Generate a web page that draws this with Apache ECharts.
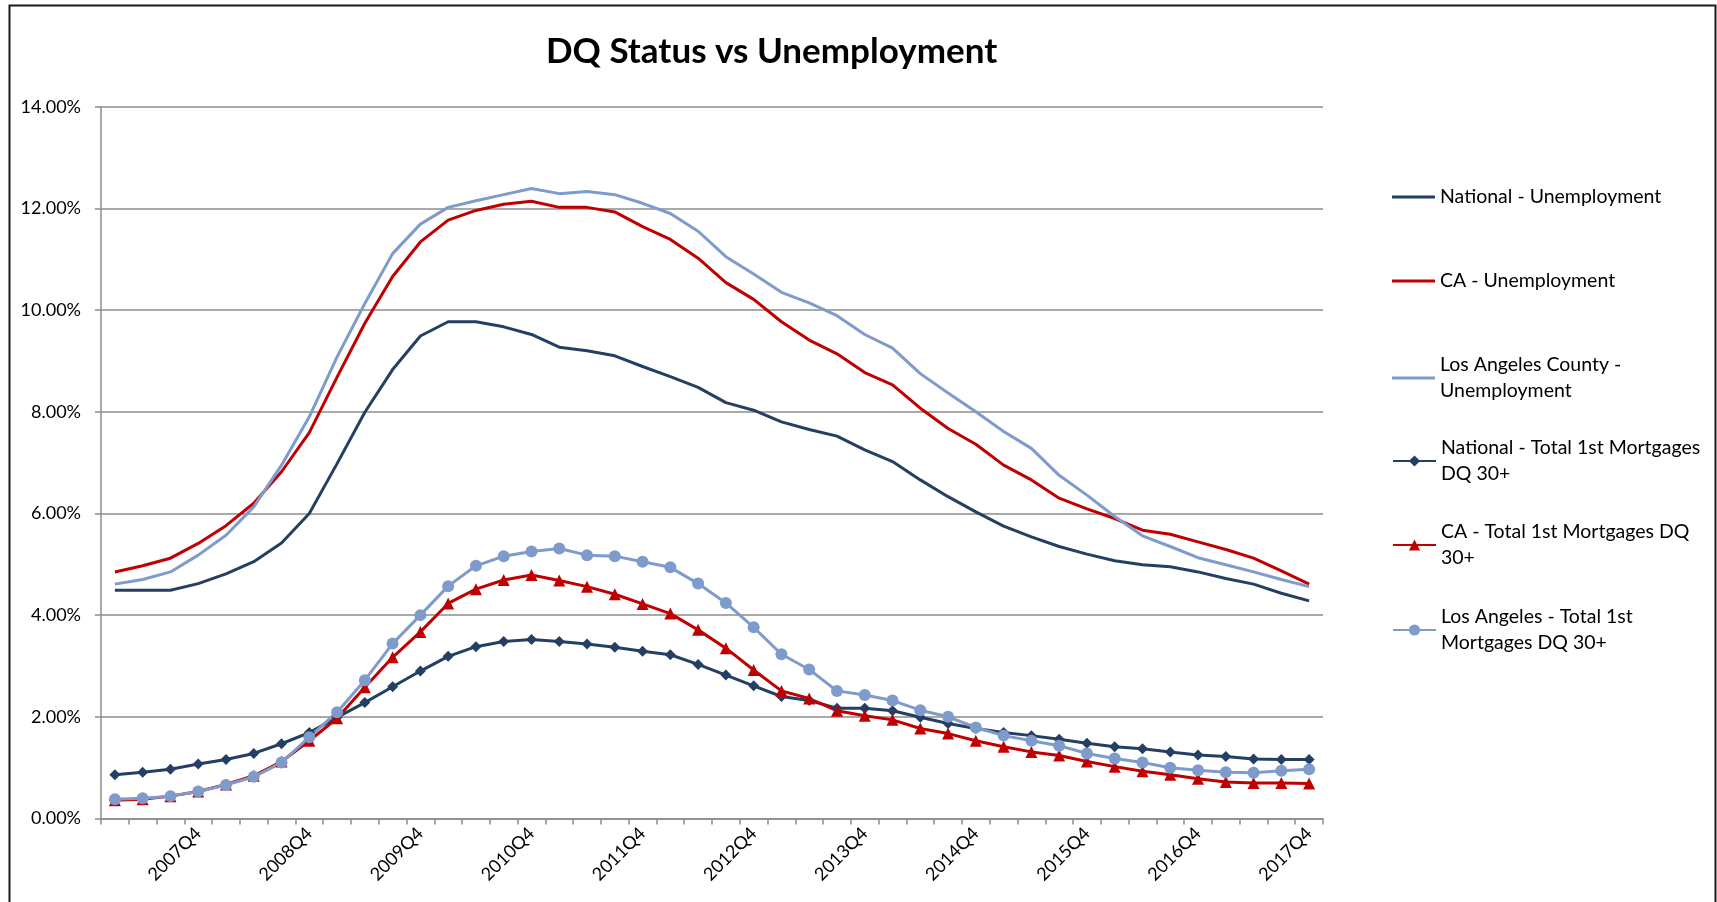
<!DOCTYPE html>
<html>
<head>
<meta charset="utf-8">
<script src="https://cdn.jsdelivr.net/npm/echarts@6/dist/echarts.min.js"></script>
<style>
html,body{margin:0;padding:0;background:#fff;}
#chart{width:1717px;height:902px;}
</style>
</head>
<body>
<div id="chart"></div>
<script>
const categories = [
  '2007Q1','2007Q2','2007Q3','2007Q4','2008Q1','2008Q2','2008Q3','2008Q4',
  '2009Q1','2009Q2','2009Q3','2009Q4','2010Q1','2010Q2','2010Q3','2010Q4',
  '2011Q1','2011Q2','2011Q3','2011Q4','2012Q1','2012Q2','2012Q3','2012Q4',
  '2013Q1','2013Q2','2013Q3','2013Q4','2014Q1','2014Q2','2014Q3','2014Q4',
  '2015Q1','2015Q2','2015Q3','2015Q4','2016Q1','2016Q2','2016Q3','2016Q4',
  '2017Q1','2017Q2','2017Q3','2017Q4'
];
const yTicks = [0, 2, 4, 6, 8, 10, 12, 14];

const nationalUnemployment = [4.49,4.49,4.49,4.62,4.81,5.05,5.42,6.00,6.98,7.99,8.83,9.49,9.77,9.77,9.67,9.52,9.27,9.20,9.10,8.89,8.69,8.48,8.18,8.03,7.80,7.65,7.52,7.25,7.02,6.66,6.33,6.03,5.75,5.54,5.35,5.20,5.07,4.99,4.95,4.85,4.72,4.61,4.43,4.28];
const caUnemployment = [4.85,4.97,5.12,5.41,5.76,6.20,6.82,7.59,8.68,9.74,10.66,11.34,11.77,11.96,12.08,12.14,12.02,12.02,11.93,11.64,11.39,11.02,10.54,10.21,9.77,9.41,9.14,8.77,8.53,8.07,7.67,7.36,6.95,6.66,6.30,6.09,5.90,5.67,5.59,5.44,5.29,5.12,4.87,4.61];
const laUnemployment = [4.61,4.70,4.85,5.18,5.57,6.13,6.95,7.90,9.08,10.13,11.11,11.69,12.02,12.15,12.27,12.39,12.29,12.33,12.27,12.10,11.90,11.55,11.05,10.71,10.35,10.14,9.89,9.52,9.25,8.75,8.37,8.00,7.61,7.28,6.75,6.36,5.94,5.56,5.35,5.13,4.99,4.85,4.70,4.56];
const nationalDQ = [0.86,0.91,0.97,1.07,1.16,1.28,1.47,1.69,1.99,2.28,2.59,2.90,3.19,3.38,3.48,3.52,3.48,3.43,3.37,3.29,3.22,3.03,2.82,2.61,2.40,2.32,2.17,2.17,2.12,1.99,1.87,1.77,1.69,1.63,1.56,1.48,1.41,1.37,1.31,1.25,1.22,1.17,1.16,1.16];
const caDQ = [0.36,0.38,0.44,0.53,0.67,0.84,1.12,1.53,1.97,2.58,3.17,3.67,4.23,4.51,4.69,4.79,4.68,4.56,4.41,4.22,4.03,3.71,3.35,2.92,2.51,2.36,2.12,2.02,1.94,1.77,1.67,1.53,1.41,1.31,1.24,1.12,1.02,0.93,0.86,0.78,0.72,0.70,0.70,0.69];
const laDQ = [0.38,0.40,0.44,0.53,0.66,0.82,1.10,1.60,2.09,2.72,3.44,4.00,4.57,4.97,5.16,5.25,5.31,5.18,5.16,5.05,4.94,4.62,4.24,3.76,3.23,2.93,2.51,2.43,2.32,2.13,2.00,1.79,1.63,1.53,1.43,1.28,1.18,1.10,1.00,0.95,0.91,0.90,0.94,0.97];

const seriesNames = [
  'National - Unemployment',
  'CA - Unemployment',
  'Los Angeles County - Unemployment',
  'National - Total 1st Mortgages DQ 30+',
  'CA - Total 1st Mortgages DQ 30+',
  'Los Angeles - Total 1st Mortgages DQ 30+'
];
const legendLabels = [
  'National - Unemployment',
  'CA - Unemployment',
  'Los Angeles County -\nUnemployment',
  'National - Total 1st Mortgages\nDQ 30+',
  'CA - Total 1st Mortgages DQ\n30+',
  'Los Angeles - Total 1st\nMortgages DQ 30+'
];
const hasMarker = [false, false, false, true, true, true];
const NAVY = '#243F63', RED = '#C00000', LBLUE = '#7E9BCB';
const colors = [NAVY, RED, LBLUE, NAVY, RED, LBLUE];
const FONT = 'Lato';

const chart = echarts.init(document.getElementById('chart'), null, {renderer: 'canvas'});

const LH = 26;
const legendRowsY = [197, 281, 365, 448, 532, 617];
const legends = seriesNames.map((n, i) => {
  const multi = legendLabels[i].indexOf('\n') >= 0;
  const ih = hasMarker[i] ? 14 : 3;
  const h = multi ? 2 * LH : Math.max(ih, LH);
  const base = {
    left: 1392,
    top: legendRowsY[i] - h / 2,
    padding: 0,
    orient: 'vertical',
    itemWidth: 43,
    itemHeight: ih,
    selectedMode: false,
    formatter: () => legendLabels[i],
    textStyle: {fontFamily: FONT, fontSize: 19.5, color: '#000', lineHeight: LH, padding: multi ? [LH, 0, 0, 0] : 0},
    data: [n]
  };
  if (!hasMarker[i]) {
    base.icon = 'rect';
    base.itemStyle = {color: colors[i]};
  }
  return base;
});

function lineSeries(i, data, symbol, symbolSize) {
  const color = colors[i];
  return {
    name: seriesNames[i], type: 'line', data,
    symbol: symbol || 'none',
    symbolSize: symbolSize || 4,
    showSymbol: !!symbol,
    lineStyle: {color, width: 3},
    itemStyle: {color},
    animation: false
  };
}

chart.setOption({
  backgroundColor: '#fff',
  animation: false,
  title: {
    text: 'DQ Status vs Unemployment',
    left: 546, top: 34, padding: 0,
    textStyle: {fontFamily: FONT, fontWeight: 'bold', fontSize: 35, color: '#000'}
  },
  graphic: [{
    type: 'rect', left: 7, top: 3, silent: true,
    shape: {width: 1706, height: 1000},
    style: {fill: null, stroke: '#1a1a1a', lineWidth: 2}
  }],
  legend: legends,
  grid: {left: 101, right: 394, top: 106.7, bottom: 83.5, containLabel: false},
  xAxis: {
    type: 'category',
    data: categories,
    boundaryGap: true,
    axisLine: {lineStyle: {color: '#8c8c8c', width: 1.5}},
    axisTick: {show: true, interval: 0, length: 6, lineStyle: {color: '#8c8c8c', width: 1.5}},
    axisLabel: {
      interval: (idx) => idx % 4 === 3,
      rotate: 45, margin: 12,
      fontFamily: FONT, fontSize: 18, color: '#000'
    },
    splitLine: {show: false}
  },
  yAxis: {
    type: 'value',
    min: yTicks[0], max: yTicks[yTicks.length - 1], interval: 2,
    axisLine: {show: true, lineStyle: {color: '#8c8c8c', width: 1.5}},
    axisTick: {show: true, length: 6, lineStyle: {color: '#8c8c8c', width: 1.5}},
    axisLabel: {formatter: v => v.toFixed(2) + '%', margin: 20, fontFamily: FONT, fontSize: 18, color: '#000'},
    splitLine: {lineStyle: {color: '#8c8c8c', width: 1.5}}
  },
  series: [
    lineSeries(0, nationalUnemployment),
    lineSeries(1, caUnemployment),
    lineSeries(2, laUnemployment),
    lineSeries(3, nationalDQ, 'diamond', 11),
    lineSeries(4, caDQ, 'triangle', 12),
    lineSeries(5, laDQ, 'circle', 12)
  ]
});
</script>
</body>
</html>
